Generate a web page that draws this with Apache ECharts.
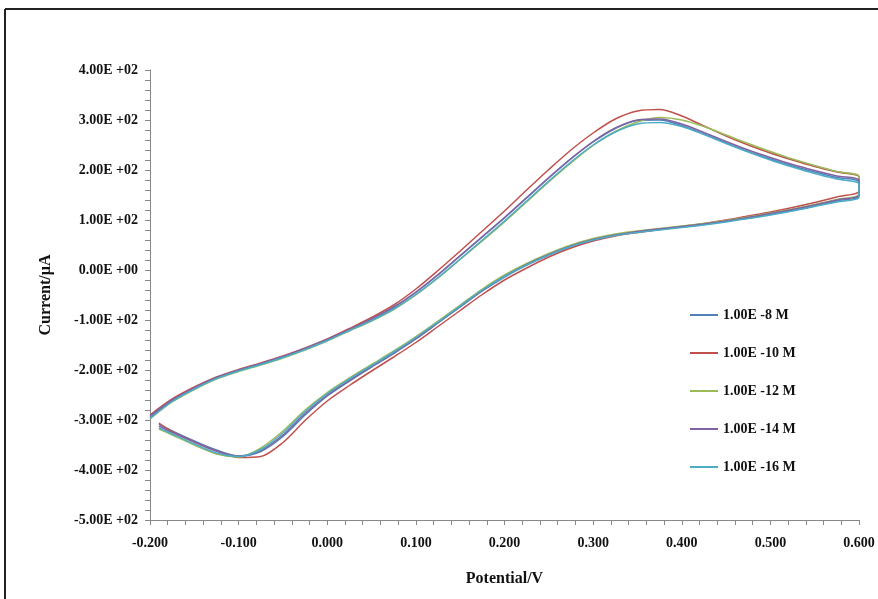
<!DOCTYPE html>
<html>
<head>
<meta charset="utf-8">
<script src="https://cdn.jsdelivr.net/npm/echarts@6/dist/echarts.min.js"></script>
<style>
  html, body { margin: 0; padding: 0; background: #fff; }
  #main { width: 878px; height: 599px; }
</style>
</head>
<body>
<div id="main"></div>
<script>
var chartDom = document.getElementById('main');
var myChart = echarts.init(chartDom);

// potential (V) for forward and reverse scans
const potentialFwd = [-0.2, -0.175, -0.15, -0.125, -0.1, -0.075, -0.05, -0.025, 0, 0.025, 0.05, 0.075, 0.1, 0.125, 0.15, 0.175, 0.2, 0.225, 0.25, 0.275, 0.3, 0.325, 0.35, 0.375, 0.4, 0.425, 0.45, 0.475, 0.5, 0.525, 0.55, 0.575, 0.6];
const potentialRev = [0.6, 0.575, 0.55, 0.525, 0.5, 0.475, 0.45, 0.425, 0.4, 0.375, 0.35, 0.325, 0.3, 0.275, 0.25, 0.225, 0.2, 0.175, 0.15, 0.125, 0.1, 0.075, 0.05, 0.025, 0, -0.025, -0.05, -0.075, -0.1, -0.125, -0.15, -0.175, -0.19];

const seriesNames = ['1.00E -8 M', '1.00E -10 M', '1.00E -12 M', '1.00E -14 M', '1.00E -16 M'];
const colors = ['#4F81BD', '#C0504D', '#9BBB59', '#8064A2', '#4BACC6'];

// current (uA), forward scan
const fwd8 = [-295, -262, -237, -216, -201, -188, -174, -158, -140, -120, -99, -75, -45, -10, 28, 66, 104, 144, 184, 222, 256, 283, 299, 300, 289, 272, 254, 237, 222, 208, 196, 185, 176];
const fwd10 = [-290, -258, -234, -214, -199, -186, -172, -156, -138, -117, -95, -70, -38, -1, 38, 78, 118, 160, 201, 240, 274, 302, 318, 321, 308, 288, 268, 250, 234, 220, 207, 196, 186];
const fwd12 = [-298, -264, -239, -218, -203, -190, -176, -160, -142, -122, -102, -79, -50, -16, 21, 58, 96, 136, 176, 214, 249, 277, 296, 305, 300, 287, 270, 253, 237, 222, 209, 197, 187];
const fwd14 = [-292, -260, -236, -215, -200, -187, -173, -157, -139, -119, -98, -74, -44, -9, 29, 67, 105, 145, 185, 223, 257, 284, 300, 302, 292, 275, 257, 240, 225, 211, 199, 188, 179];
const fwd16 = [-297, -263, -238, -217, -202, -189, -175, -159, -141, -121, -101, -78, -49, -15, 22, 60, 98, 138, 178, 216, 250, 276, 292, 295, 287, 271, 253, 236, 220, 206, 193, 182, 172];

// current (uA), reverse scan
const rev8 = [148, 138, 128, 119, 111, 104, 97, 91, 86, 81, 76, 69, 60, 47, 30, 10, -14, -42, -74, -106, -138, -167, -194, -222, -252, -290, -333, -363, -372, -360, -342, -322, -308];
const rev10 = [158, 146, 135, 125, 116, 108, 100, 93, 87, 81, 75, 68, 58, 44, 26, 4, -20, -49, -81, -113, -145, -174, -202, -231, -262, -301, -345, -373, -375, -362, -344, -323, -306];
const rev12 = [152, 141, 131, 122, 114, 106, 99, 93, 88, 83, 78, 72, 63, 50, 33, 13, -10, -38, -70, -102, -133, -162, -189, -216, -245, -280, -322, -356, -374, -368, -350, -330, -318];
const rev14 = [150, 140, 130, 121, 113, 105, 98, 92, 87, 82, 77, 70, 61, 48, 31, 11, -13, -41, -73, -105, -137, -166, -193, -221, -250, -287, -330, -361, -372, -362, -344, -325, -312];
const rev16 = [146, 136, 127, 118, 110, 103, 96, 90, 85, 80, 75, 69, 60, 47, 30, 10, -13, -40, -72, -104, -135, -164, -191, -218, -247, -283, -326, -359, -373, -366, -348, -328, -316];

const xTicks = [-0.2, -0.1, 0, 0.1, 0.2, 0.3, 0.4, 0.5, 0.6];
const xTickLabels = ['-0.200', '-0.100', '0.000', '0.100', '0.200', '0.300', '0.400', '0.500', '0.600'];
const yTicks = [-500, -400, -300, -200, -100, 0, 100, 200, 300, 400];
const yTickLabels = ['-5.00E +02', '-4.00E +02', '-3.00E +02', '-2.00E +02', '-1.00E +02', '0.00E +00', '1.00E +02', '2.00E +02', '3.00E +02', '4.00E +02'];

const fwdAll = [fwd8, fwd10, fwd12, fwd14, fwd16];
const revAll = [rev8, rev10, rev12, rev14, rev16];

function loop(fwd, rev) {
    let pts = [];
    potentialFwd.forEach(function (p, i) { pts.push([p, fwd[i]]); });
    potentialRev.forEach(function (p, i) { pts.push([p, rev[i]]); });
    return pts;
}

function pick(ticks, labels, v) {
    for (let i = 0; i < ticks.length; i++) {
        if (Math.abs(ticks[i] - v) < 1e-6) return labels[i];
    }
    return '';
}

const font = 'Liberation Serif';

let option = {
    backgroundColor: '#fff',
    animation: false,
    color: colors,
    grid: { left: 150, right: 19, top: 70, bottom: 79 },
    graphic: [
        { type: 'line', shape: { x1: 5, y1: 9, x2: 878, y2: 9 }, style: { stroke: '#222', lineWidth: 2 } },
        { type: 'line', shape: { x1: 5, y1: 9, x2: 5, y2: 599 }, style: { stroke: '#222', lineWidth: 2 } }
    ],
    legend: {
        orient: 'vertical',
        left: 685,
        top: 303,
        icon: 'rect',
        itemWidth: 28,
        itemHeight: 2,
        itemGap: 24,
        textStyle: { fontFamily: font, fontWeight: 'bold', fontSize: 14, color: '#111' },
        data: seriesNames
    },
    xAxis: {
        type: 'value',
        min: -0.2,
        max: 0.6,
        interval: 0.1,
        name: 'Potential/V',
        nameLocation: 'middle',
        nameGap: 51,
        nameTextStyle: { fontFamily: font, fontWeight: 'bold', fontSize: 16, color: '#111' },
        axisLine: { onZero: false, lineStyle: { color: '#888' } },
        axisTick: { show: true, inside: false, length: 5, lineStyle: { color: '#888' } },
        minorTick: { show: true, splitNumber: 5, length: 5, lineStyle: { color: '#888' } },
        splitLine: { show: false },
        axisLabel: {
            margin: 16,
            fontFamily: font, fontWeight: 'bold', fontSize: 14, color: '#111',
            formatter: function (v) { return pick(xTicks, xTickLabels, v); }
        }
    },
    yAxis: {
        type: 'value',
        min: -500,
        max: 400,
        interval: 100,
        name: 'Current/µA',
        nameLocation: 'middle',
        nameGap: 96,
        nameTextStyle: { fontFamily: font, fontWeight: 'bold', fontSize: 16, color: '#111' },
        axisLine: { show: true, onZero: false, lineStyle: { color: '#888' } },
        axisTick: { show: true, inside: false, length: 5, lineStyle: { color: '#888' } },
        minorTick: { show: true, splitNumber: 5, length: 5, lineStyle: { color: '#888' } },
        splitLine: { show: false },
        axisLabel: {
            margin: 12,
            fontFamily: font, fontWeight: 'bold', fontSize: 14, color: '#111',
            formatter: function (v) { return pick(yTicks, yTickLabels, v); }
        }
    },
    series: seriesNames.map(function (name, k) {
        return {
            name: name,
            type: 'line',
            data: loop(fwdAll[k], revAll[k]),
            symbol: 'none',
            smooth: 0.3,
            lineStyle: { width: 1.5, color: colors[k] }
        };
    })
};

option && myChart.setOption(option);
</script>
</body>
</html>
